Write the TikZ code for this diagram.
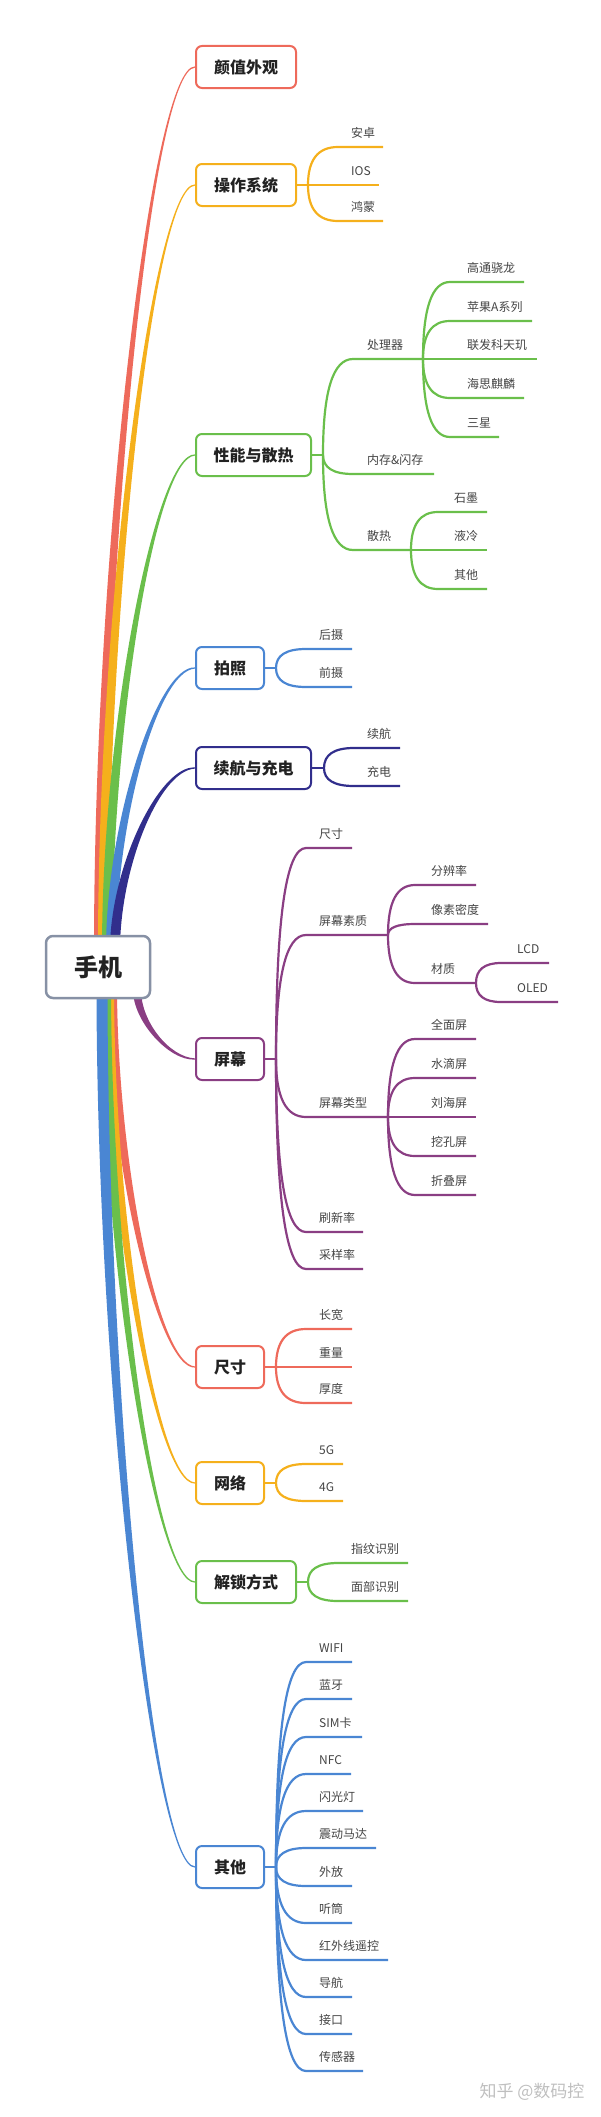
\documentclass[tikz,border=0pt]{standalone}
\usepackage{fontspec}
\setmainfont{Noto Sans CJK SC}
\usetikzlibrary{calc,backgrounds}
\definecolor{cred}{HTML}{EE6A5B}
\definecolor{corange}{HTML}{F5B01C}
\definecolor{cgreen}{HTML}{6ABF4B}
\definecolor{cblue}{HTML}{4A86D3}
\definecolor{cnavy}{HTML}{312E8C}
\definecolor{cpurple}{HTML}{8A3E83}
\definecolor{croot}{HTML}{8791A5}
\definecolor{labelc}{HTML}{444444}
\definecolor{titlec}{HTML}{222222}
\tikzset{
 topic/.style={draw=#1, line width=2pt, rounded corners=6pt, fill=white, inner sep=0pt,
   minimum height=42pt, anchor=west, font=\fontsize{16}{18}\selectfont\bfseries, text=titlec},
 sub/.style={line width=2.2pt},
 lbl/.style={inner sep=0pt, anchor=base west, font=\fontsize{12}{14}\selectfont, text=labelc},
}
% tapered main branch: color, start coordinate, target node, width, sign (1 up, -1 down)
\newcommand\mainbr[5]{%
 \fill[#1] let \p0=(#2), \p3=(#3.west) in
  ({\x0-#4*0.5pt},\y0) .. controls ({\x0-#4*0.5pt},{\y0+0.45*(\y3-\y0)}) and ({\x0+0.55*(\x3-\x0)},{\y3+#5*#4*0.25pt}) .. (\x3,{\y3+#5*0.6pt})
  -- (\x3,{\y3-#5*0.6pt}) .. controls ({\x0+0.55*(\x3-\x0)},{\y3-#5*#4*0.25pt}) and ({\x0+#4*0.5pt},{\y0+0.45*(\y3-\y0)}) .. ({\x0+#4*0.5pt},\y0) -- cycle;
}
% leaf: color, branch point, line y, label x, end x, label, name, curve length
\newcommand\leaf[8]{%
 \draw[sub,#1] (#2) .. controls ($(#2)!0.667!(#2 |- 0,#3)$) and ($(#2 |- 0,#3)+(#8/3,0)$) .. ($(#2 |- 0,#3)+(#8,0)$) -- (#5,#3);
 \node[lbl,yshift=9.5pt] (#7) at (#4,#3) {#6};
}
\begin{document}
\begin{tikzpicture}[x=1pt,y=-1pt]
\useasboundingbox (0,0) rectangle (600,2117);
\def\L{30}\def\LL{27}
% root and topics
\node[draw=croot, line width=2.5pt, rounded corners=7pt, fill=white, minimum width=104pt,
  minimum height=62pt, inner sep=0pt, font=\fontsize{24}{28}\selectfont\bfseries, text=titlec] (root) at (98,967) {手机};
\node[topic=cred, minimum width=100pt] (b1) at (195,67) {颜值外观};
\node[topic=corange, minimum width=100pt] (b2) at (195,185) {操作系统};
\node[topic=cgreen, minimum width=115pt] (b3) at (195,455) {性能与散热};
\node[topic=cblue, minimum width=68pt] (b4) at (195,668) {拍照};
\node[topic=cnavy, minimum width=115pt] (b5) at (195,768) {续航与充电};
\node[topic=cpurple, minimum width=68pt] (b6) at (195,1059) {屏幕};
\node[topic=cred, minimum width=68pt] (b7) at (195,1367) {尺寸};
\node[topic=corange, minimum width=68pt] (b8) at (195,1483) {网络};
\node[topic=cgreen, minimum width=100pt] (b9) at (195,1582) {解锁方式};
\node[topic=cblue, minimum width=68pt] (b10) at (195,1867) {其他};
% start points of the main branches
\coordinate (s1) at (99,950);
\coordinate (s2) at (103,950);
\coordinate (s3) at (107,950);
\coordinate (s4) at (111,950);
\coordinate (s5) at (115,950);
\coordinate (s6) at (137,990);
\coordinate (s7) at (112,985);
\coordinate (s8) at (109,985);
\coordinate (s9) at (106,985);
\coordinate (s10) at (102,985);
\begin{pgfonlayer}{background}
\mainbr{cred}{s1}{b1}{10}{1}
\mainbr{corange}{s2}{b2}{10}{1}
\mainbr{cgreen}{s3}{b3}{10}{1}
\mainbr{cblue}{s4}{b4}{10}{1}
\mainbr{cnavy}{s5}{b5}{10}{1}
\mainbr{cred}{s7}{b7}{10}{-1}
\mainbr{corange}{s8}{b8}{10}{-1}
\mainbr{cgreen}{s9}{b9}{10}{-1}
\mainbr{cblue}{s10}{b10}{11}{-1}
\mainbr{cpurple}{s6}{b6}{8}{-1}
\end{pgfonlayer}
% branch points
\coordinate (bp2) at (308,185);
\coordinate (bp3) at (323,455);
\coordinate (bp4) at (276,668);
\coordinate (bp5) at (324,768);
\coordinate (bp6) at (276,1059);
\coordinate (bp7) at (276,1367);
\coordinate (bp8) at (276,1483);
\coordinate (bp9) at (308,1582);
\coordinate (bp10) at (276,1867);
\draw[sub,corange] (b2.east) -- (bp2);
\draw[sub,cgreen] (b3.east) -- (bp3);
\draw[sub,cblue] (b4.east) -- (bp4);
\draw[sub,cnavy] (b5.east) -- (bp5);
\draw[sub,cpurple] (b6.east) -- (bp6);
\draw[sub,cred] (b7.east) -- (bp7);
\draw[sub,corange] (b8.east) -- (bp8);
\draw[sub,cgreen] (b9.east) -- (bp9);
\draw[sub,cblue] (b10.east) -- (bp10);
% 操作系统
\leaf{corange}{bp2}{147}{351}{383}{安卓}{l21}{\L}
\leaf{corange}{bp2}{185}{351}{379}{IOS}{l22}{\L}
\leaf{corange}{bp2}{221}{351}{383}{鸿蒙}{l23}{\L}
% 性能与散热
\leaf{cgreen}{bp3}{359}{367}{423}{处理器}{l31}{\L}
\leaf{cgreen}{bp3}{474}{367}{434}{内存\&闪存}{l32}{\L}
\leaf{cgreen}{bp3}{550}{367}{411}{散热}{l33}{\L}
\coordinate (p31) at (423,359);
\coordinate (p33) at (411,550);
\leaf{cgreen}{p31}{282}{467}{524}{高通骁龙}{l311}{\LL}
\leaf{cgreen}{p31}{321}{467}{532}{苹果A系列}{l312}{\LL}
\leaf{cgreen}{p31}{359}{467}{537}{联发科天玑}{l313}{\LL}
\leaf{cgreen}{p31}{398}{467}{524}{海思麒麟}{l314}{\LL}
\leaf{cgreen}{p31}{437}{467}{499}{三星}{l315}{\LL}
\leaf{cgreen}{p33}{512}{454}{487}{石墨}{l331}{\LL}
\leaf{cgreen}{p33}{550}{454}{487}{液冷}{l332}{\LL}
\leaf{cgreen}{p33}{589}{454}{487}{其他}{l333}{\LL}
% 拍照
\leaf{cblue}{bp4}{649}{319}{352}{后摄}{l41}{\L}
\leaf{cblue}{bp4}{687}{319}{352}{前摄}{l42}{\L}
% 续航与充电
\leaf{cnavy}{bp5}{748}{367}{400}{续航}{l51}{\L}
\leaf{cnavy}{bp5}{786}{367}{400}{充电}{l52}{\L}
% 屏幕
\leaf{cpurple}{bp6}{848}{319}{352}{尺寸}{l61}{\L}
\leaf{cpurple}{bp6}{935}{319}{388}{屏幕素质}{l62}{\L}
\leaf{cpurple}{bp6}{1117}{319}{388}{屏幕类型}{l63}{\L}
\leaf{cpurple}{bp6}{1232}{319}{363}{刷新率}{l64}{\L}
\leaf{cpurple}{bp6}{1269}{319}{363}{采样率}{l65}{\L}
\coordinate (p62) at (388,935);
\coordinate (p63) at (388,1117);
\leaf{cpurple}{p62}{885}{431}{476}{分辨率}{l621}{\LL}
\leaf{cpurple}{p62}{924}{431}{488}{像素密度}{l622}{\LL}
\leaf{cpurple}{p62}{983}{431}{476}{材质}{l623}{\LL}
\coordinate (p623) at (476,983);
\leaf{cpurple}{p623}{963}{517}{549}{LCD}{l6231}{25}
\leaf{cpurple}{p623}{1002}{517}{558}{OLED}{l6232}{25}
\leaf{cpurple}{p63}{1039}{431}{476}{全面屏}{l631}{\LL}
\leaf{cpurple}{p63}{1078}{431}{476}{水滴屏}{l632}{\LL}
\leaf{cpurple}{p63}{1117}{431}{476}{刘海屏}{l633}{\LL}
\leaf{cpurple}{p63}{1156}{431}{476}{挖孔屏}{l634}{\LL}
\leaf{cpurple}{p63}{1195}{431}{476}{折叠屏}{l635}{\LL}
% 尺寸
\leaf{cred}{bp7}{1329}{319}{352}{长宽}{l71}{\L}
\leaf{cred}{bp7}{1367}{319}{352}{重量}{l72}{\L}
\leaf{cred}{bp7}{1403}{319}{352}{厚度}{l73}{\L}
% 网络
\leaf{corange}{bp8}{1464}{319}{343}{5G}{l81}{\L}
\leaf{corange}{bp8}{1501}{319}{343}{4G}{l82}{\L}
% 解锁方式
\leaf{cgreen}{bp9}{1563}{351}{408}{指纹识别}{l91}{\L}
\leaf{cgreen}{bp9}{1601}{351}{408}{面部识别}{l92}{\L}
% 其他
\leaf{cblue}{bp10}{1662}{319}{352}{WIFI}{l101}{\L}
\leaf{cblue}{bp10}{1699}{319}{352}{蓝牙}{l102}{\L}
\leaf{cblue}{bp10}{1737}{319}{362}{SIM卡}{l103}{\L}
\leaf{cblue}{bp10}{1774}{319}{351}{NFC}{l104}{\L}
\leaf{cblue}{bp10}{1811}{319}{363}{闪光灯}{l105}{\L}
\leaf{cblue}{bp10}{1848}{319}{376}{震动马达}{l106}{\L}
\leaf{cblue}{bp10}{1886}{319}{352}{外放}{l107}{\L}
\leaf{cblue}{bp10}{1923}{319}{352}{听筒}{l108}{\L}
\leaf{cblue}{bp10}{1960}{319}{388}{红外线遥控}{l109}{\L}
\leaf{cblue}{bp10}{1997}{319}{352}{导航}{l1010}{\L}
\leaf{cblue}{bp10}{2034}{319}{352}{接口}{l1011}{\L}
\leaf{cblue}{bp10}{2071}{319}{363}{传感器}{l1012}{\L}
% watermark
\node[inner sep=0pt, font=\fontsize{17}{20}\selectfont, text=black!25] (wm) at (532,2092) {知乎 @数码控};
\end{tikzpicture}
\end{document}
